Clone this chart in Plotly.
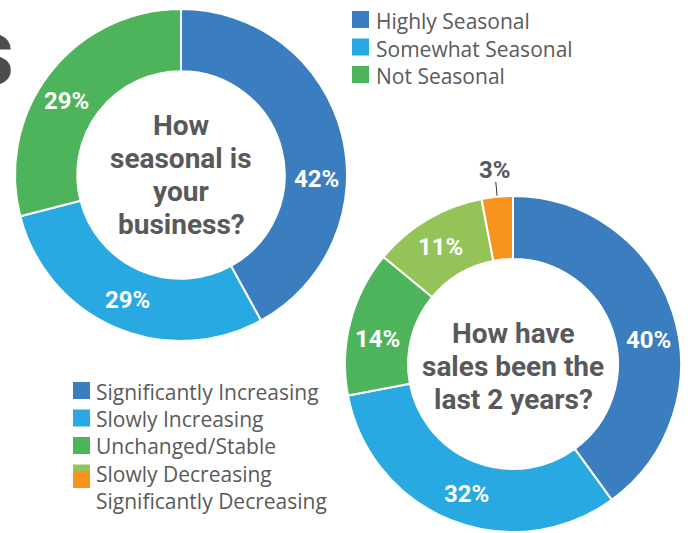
import math
import plotly.graph_objects as go

W, H = 688, 533

# --- data -------------------------------------------------------------
season_labels = ["Highly Seasonal", "Somewhat Seasonal", "Not Seasonal"]
season_values = [42, 29, 29]
season_colors = ["#3A7EC0", "#29A9E1", "#4DB45B"]
season_question = ["How", "seasonal is", "your", "business?"]

sales_labels = ["Significantly Increasing", "Slowly Increasing", "Unchanged/Stable",
                "Slowly Decreasing", "Significantly Decreasing"]
sales_values = [40, 32, 14, 11, 3]
sales_colors = ["#3A7EC0", "#29A9E1", "#4DB45B", "#94C457", "#F7941E"]
sales_question = ["How have", "sales been the", "last 2 years?"]

GRAY = "#58595B"
LEGEND_GRAY = "#5A5A5A"


def px(x):
    return x / W


def py(y):
    return 1 - y / H


def domain(cx, cy, r):
    return dict(x=[px(cx - r), px(cx + r)], y=[py(cy + r), py(cy - r)])


# donut geometry in pixels
c1x, c1y, r1 = 181, 175, 166
c2x, c2y, r2 = 513, 364, 168
HOLE = 0.625

small_cut = 5  # slices below this share are labelled outside the ring

fig = go.Figure()

for labels, values, colors, (cx, cy, r) in (
        (season_labels, season_values, season_colors, (c1x, c1y, r1)),
        (sales_labels, sales_values, sales_colors, (c2x, c2y, r2))):
    fig.add_trace(go.Pie(
        labels=labels, values=values, sort=False,
        direction="clockwise", rotation=0, hole=HOLE,
        marker=dict(colors=colors, line=dict(color="white", width=2)),
        textinfo="none", domain=domain(cx, cy, r),
        showlegend=False, hoverinfo="label+percent",
    ))

annotations = []
shapes = []


def slice_point(values, k, cx, cy, rad, shift_deg=0.0):
    """Pixel point at radius rad on the mid-angle of slice k (clockwise from 12 o'clock)."""
    total = sum(values)
    frac = (sum(values[:k]) + values[k] / 2) / total
    th = 2 * math.pi * frac + math.radians(shift_deg)
    return cx + rad * math.sin(th), cy - rad * math.cos(th)


def pct_labels(values, cx, cy, r, shifts):
    ring_mid = r * (1 + HOLE) / 2
    for k, v in enumerate(values):
        if v < small_cut:
            # thin slice: label outside with a short leader line
            x0, y0 = slice_point(values, k, cx, cy, r + 1)
            x1, y1 = slice_point(values, k, cx, cy, r + 15)
            shapes.append(dict(type="line", xref="paper", yref="paper",
                               x0=px(x0), y0=py(y0), x1=px(x1), y1=py(y1),
                               line=dict(color="#333333", width=1)))
            tx, ty = slice_point(values, k, cx, cy, r + 27)
            color = GRAY
        else:
            tx, ty = slice_point(values, k, cx, cy, ring_mid + 1, shifts[k])
            color = "white"
        annotations.append(dict(
            x=px(tx), y=py(ty), xref="paper", yref="paper", text=f"{v}%",
            showarrow=False, xanchor="center", yanchor="middle",
            font=dict(family="Roboto", size=24, color=color, weight="bold")))


# the largest labels sit a little lower than the slice centre
pct_labels(season_values, c1x, c1y, r1, [16, 0, -5])
pct_labels(sales_values, c2x, c2y, r2, [8, -2, -4, -1, 0])

# questions in the donut holes
line_gap = 33
for i, line in enumerate(season_question):
    y = c1y + (i - (len(season_question) - 1) / 2) * line_gap
    annotations.append(dict(
        x=px(c1x), y=py(y), xref="paper", yref="paper", text=line,
        showarrow=False, xanchor="center", yanchor="middle",
        font=dict(family="Roboto", size=28, color=GRAY, weight="bold")))

for i, line in enumerate(sales_question):
    y = c2y + 2 + (i - (len(sales_question) - 1) / 2) * line_gap
    annotations.append(dict(
        x=px(c2x), y=py(y), xref="paper", yref="paper", text=line,
        showarrow=False, xanchor="center", yanchor="middle",
        font=dict(family="Roboto", size=28, color=GRAY, weight="bold")))

# hand-built legends
SW = 17


def legend(labels, colors, sx, text_x, swatch_tops, text_y0, step):
    for i, (lab, col) in enumerate(zip(labels, colors)):
        top = swatch_tops[i]
        shapes.append(dict(type="rect", xref="paper", yref="paper",
                           x0=px(sx), x1=px(sx + SW), y0=py(top + SW), y1=py(top),
                           fillcolor=col, line=dict(width=0)))
        annotations.append(dict(
            x=px(text_x), y=py(text_y0 + i * step), xref="paper", yref="paper",
            text=lab, showarrow=False, xanchor="left", yanchor="middle",
            font=dict(family="Open Sans", size=21, color=LEGEND_GRAY)))


legend(season_labels, season_colors, 352, 374, [11, 38.5, 66], 21, 27.5)
legend(sales_labels, sales_colors, 73, 94, [382, 409.5, 437, 464.5, 471], 392, 27.2)

# tail of the page heading running in from the left edge
annotations.append(dict(
    x=px(16), y=py(52), xref="paper", yref="paper", text="s",
    showarrow=False, xanchor="right", yanchor="middle",
    font=dict(family="Roboto", size=96, color="#4D4D4F", weight="bold")))

fig.update_layout(
    width=W, height=H, margin=dict(l=0, r=0, t=0, b=0),
    paper_bgcolor="white", plot_bgcolor="white",
    annotations=annotations, shapes=shapes,
)

fig.write_html("out.html")
